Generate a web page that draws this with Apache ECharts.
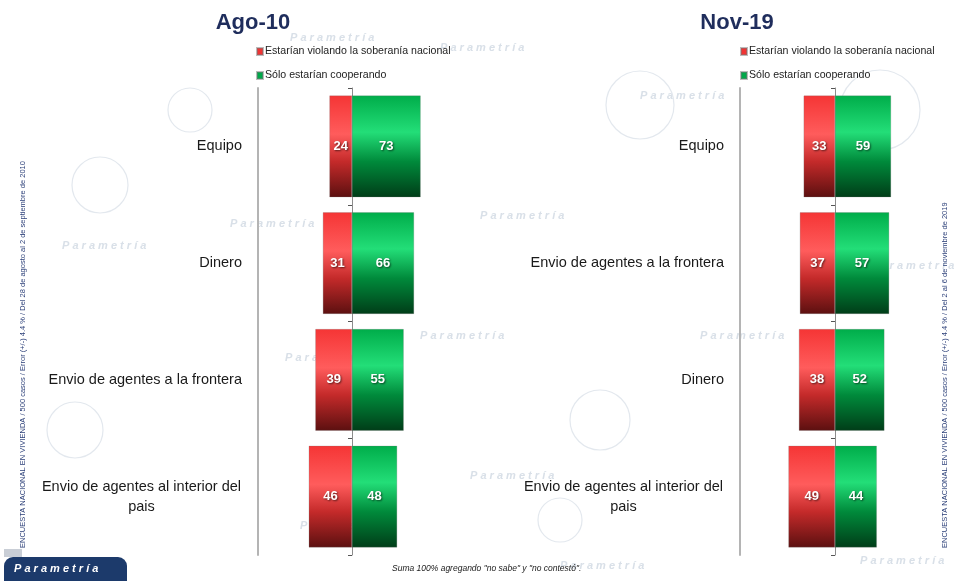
<!DOCTYPE html>
<html>
<head>
<meta charset="utf-8">
<script src="https://cdn.jsdelivr.net/npm/echarts@6/dist/echarts.min.js"></script>
<style>
  html, body { margin: 0; padding: 0; background: #fff; }
  #main { width: 956px; height: 581px; }
</style>
</head>
<body>
<div id="main"></div>
<script>
// categorias y valores de cada periodo
var cats1 = ['Equipo', 'Dinero', 'Envio de agentes a la frontera', 'Envio de agentes al interior del pais'];
var violando1 = [24, 31, 39, 46];
var cooperando1 = [73, 66, 55, 48];

var cats2 = ['Equipo', 'Envio de agentes a la frontera', 'Dinero', 'Envio de agentes al interior del pais'];
var violando2 = [33, 37, 38, 49];
var cooperando2 = [59, 57, 52, 44];

var periodos = ['Ago-10', 'Nov-19'];
var nombres = ['Estarían violando la soberanía nacional', 'Sólo estarían cooperando'];

var font = 'Liberation Sans';

var redGrad = new echarts.graphic.LinearGradient(0, 0, 0, 1, [
  { offset: 0, color: '#f53535' },
  { offset: 0.38, color: '#ff5c5c' },
  { offset: 0.65, color: '#c42a2a' },
  { offset: 1, color: '#5c1010' }
]);
var greenGrad = new echarts.graphic.LinearGradient(0, 0, 0, 1, [
  { offset: 0, color: '#00ad4a' },
  { offset: 0.36, color: '#23de78' },
  { offset: 0.65, color: '#008a3b' },
  { offset: 1, color: '#003d18' }
]);

var labelFmt = function (name) {
  if (name.indexOf('interior') >= 0) {
    return '{w|Envio de agentes al interior del}\n{w|pais}';
  }
  return name;
};

var catAxes = function (cats, gi) {
  return [
    {
      type: 'category', gridIndex: gi, data: cats, inverse: true,
      axisLine: { onZero: false, lineStyle: { color: '#b4b4b4', width: 2 } },
      axisTick: { show: false },
      axisLabel: {
        color: '#1a1a1a', fontSize: 14.5, fontFamily: font, margin: 16,
        formatter: labelFmt, lineHeight: 20,
        rich: { w: { width: 201, align: 'center', fontSize: 14.5, fontFamily: font, color: '#1a1a1a', lineHeight: 20 } }
      }
    },
    {
      type: 'category', gridIndex: gi, data: cats, inverse: true,
      axisLine: { onZero: true, lineStyle: { color: '#8c8c8c', width: 1 } },
      axisTick: { show: true, inside: true, length: 4, lineStyle: { color: '#555' } },
      axisLabel: { show: false }
    }
  ];
};

var mkSeries = function (vals, gi, idx, grad) {
  return {
    name: nombres[idx],
    type: 'bar',
    xAxisIndex: gi,
    yAxisIndex: gi * 2,
    barGap: '-100%',
    barCategoryGap: '13%',
    data: idx === 0 ? vals.map(function (v) { return -v; }) : vals,
    itemStyle: { color: grad, borderColor: 'rgba(120,120,120,0.5)', borderWidth: 0.5 },
    label: {
      show: true, position: 'inside', color: '#fff', fontSize: 13, fontWeight: 'bold', fontFamily: font,
      textShadowColor: 'rgba(0,0,0,0.6)', textShadowBlur: 2, textShadowOffsetX: 1, textShadowOffsetY: 1,
      formatter: function (p) { return Math.abs(p.value); }
    }
  };
};

// marca de agua de fondo
var marca = [];
var wm = [[290, 32], [440, 42], [230, 218], [62, 240], [285, 352], [420, 330], [470, 470], [300, 520], [640, 90], [870, 260], [560, 560], [860, 555], [480, 210], [700, 330]];
wm.forEach(function (p) {
  marca.push({
    type: 'text', x: p[0], y: p[1], z: -10, silent: true,
    style: { text: 'P a r a m e t r í a', fill: '#d9e0e8', font: 'italic bold 11px ' + font }
  });
});
var circ = [[100, 185, 28], [640, 105, 34], [600, 420, 30], [880, 110, 40], [75, 430, 28], [560, 520, 22], [190, 110, 22]];
circ.forEach(function (c) {
  marca.push({
    type: 'circle', z: -10, silent: true,
    shape: { cx: c[0], cy: c[1], r: c[2] },
    style: { fill: 'none', stroke: '#e3e8ee', lineWidth: 1.2 }
  });
});

var legendData = [
  { name: nombres[0], itemStyle: { color: '#f03434' } },
  { name: nombres[1], itemStyle: { color: '#00a84a' } }
];

var option = {
  backgroundColor: '#fff',
  title: [
    { text: periodos[0], left: 248, top: 7, textAlign: 'center',
      textStyle: { fontSize: 22, fontWeight: 'bold', color: '#1f2d5c', fontFamily: font } },
    { text: periodos[1], left: 732, top: 7, textAlign: 'center',
      textStyle: { fontSize: 22, fontWeight: 'bold', color: '#1f2d5c', fontFamily: font } }
  ],
  legend: [
    { data: legendData, left: 251, top: 41, orient: 'vertical', icon: 'rect', itemWidth: 6, itemHeight: 7, itemGap: 13,
      selectedMode: false, textStyle: { fontSize: 10.6, color: '#222', fontFamily: font, padding: [0, 0, 0, -3] } },
    { data: legendData, left: 735, top: 41, orient: 'vertical', icon: 'rect', itemWidth: 6, itemHeight: 7, itemGap: 13,
      selectedMode: false, textStyle: { fontSize: 10.6, color: '#222', fontFamily: font, padding: [0, 0, 0, -3] } }
  ],
  color: ['#f03030', '#00a848'],
  grid: [
    { left: 258, width: 188, top: 88, height: 467 },
    { left: 740, width: 190, top: 88, height: 467 }
  ],
  xAxis: [
    { type: 'value', gridIndex: 0, min: -100, max: 100, show: false },
    { type: 'value', gridIndex: 1, min: -100, max: 100, show: false }
  ],
  yAxis: catAxes(cats1, 0).concat(catAxes(cats2, 1)),
  series: [
    mkSeries(violando1, 0, 0, redGrad),
    mkSeries(cooperando1, 0, 1, greenGrad),
    mkSeries(violando2, 1, 0, redGrad),
    mkSeries(cooperando2, 1, 1, greenGrad)
  ],
  graphic: marca.concat([
    { type: 'text', x: 19, y: 548, rotation: Math.PI / 2, silent: true,
      style: { text: 'ENCUESTA NACIONAL EN VIVIENDA / 500 casos / Error (+/-) 4.4 % / Del 28 de agosto al 2 de septiembre de 2010',
        fill: '#2b3f78', font: '7.5px ' + font } },
    { type: 'text', x: 941, y: 548, rotation: Math.PI / 2, silent: true,
      style: { text: 'ENCUESTA NACIONAL EN VIVIENDA / 500 casos / Error (+/-) 4.4 % / Del 2 al 6 de noviembre de 2019',
        fill: '#2b3f78', font: '7.5px ' + font } },
    { type: 'rect', silent: true, shape: { x: 4, y: 557, width: 123, height: 30, r: [9, 9, 0, 0] },
      style: { fill: '#1c3a6b' } },
    { type: 'rect', silent: true, shape: { x: 4, y: 549, width: 18, height: 8 },
      style: { fill: '#c9ced6' } },
    { type: 'text', x: 14, y: 563, silent: true,
      style: { text: 'P a r a m e t r í a', fill: '#fff', font: 'italic bold 11px ' + font } },
    { type: 'text', x: 392, y: 564, silent: true,
      style: { text: 'Suma 100% agregando "no sabe" y "no contestó".', fill: '#222', font: 'italic 8.5px ' + font } }
  ])
};

var chart = echarts.init(document.getElementById('main'));
chart.setOption(option);
</script>
</body>
</html>
